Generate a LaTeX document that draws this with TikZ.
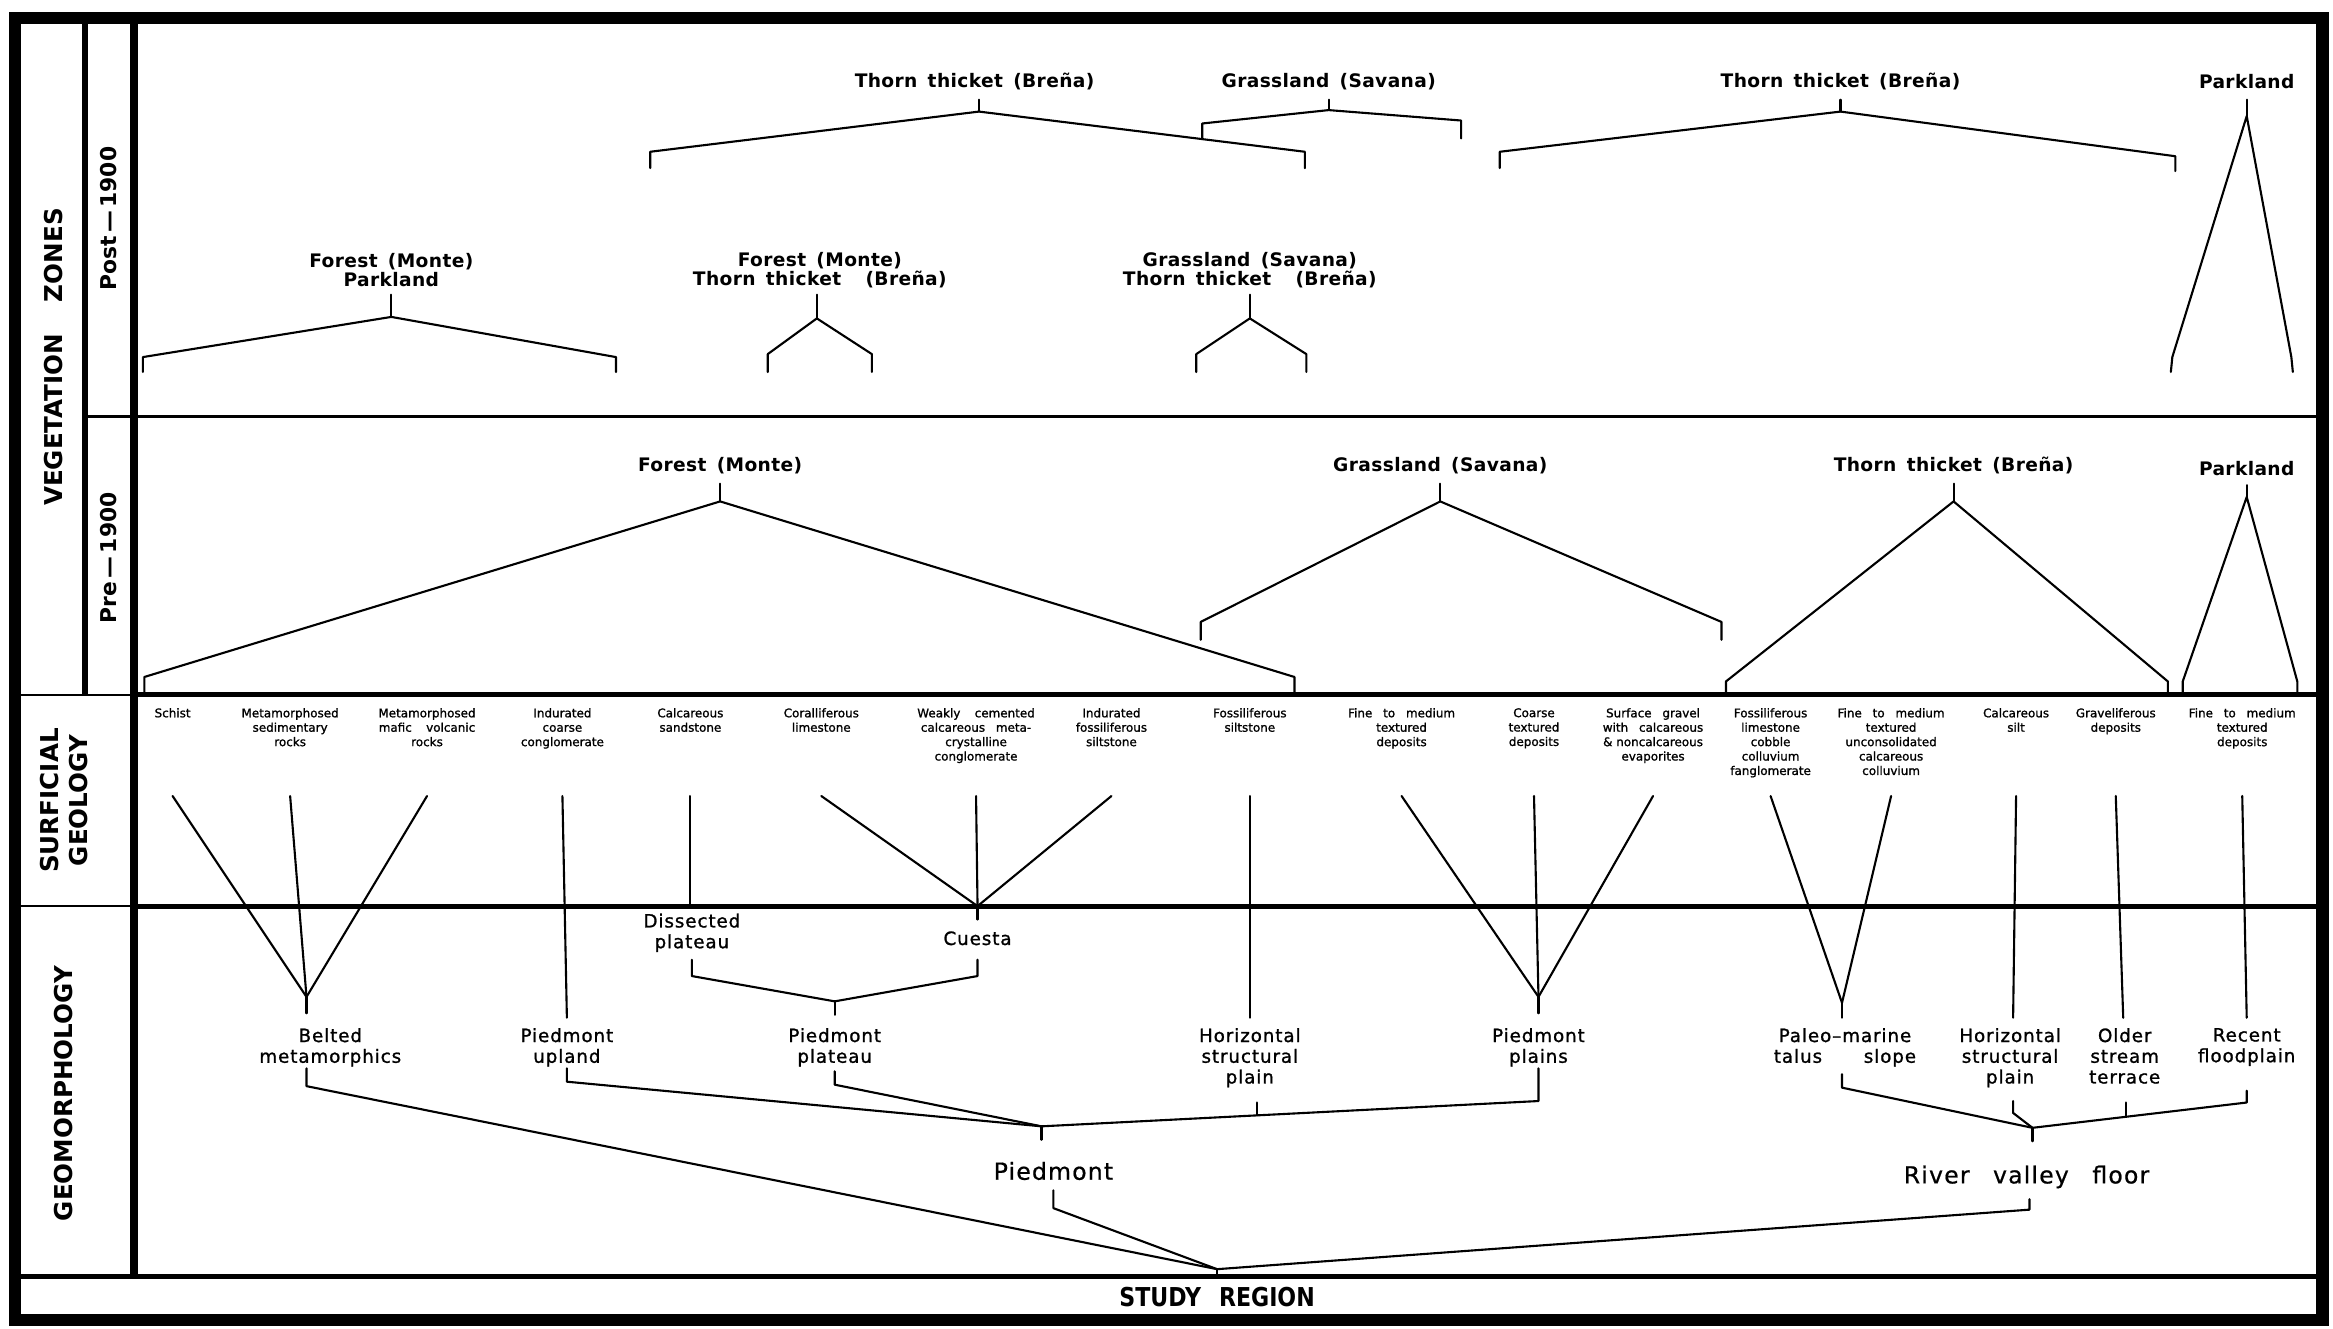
\documentclass[tikz,border=0pt]{standalone}
\usepackage{fontspec}
\setmainfont{DejaVu Sans}
\newfontfamily\vegfont[LetterSpace=2,WordSpace=1.5]{DejaVu Sans}
\newfontfamily\geomfont[LetterSpace=5,WordSpace=1.5,FakeBold=1.2]{DejaVu Sans}
\newfontfamily\bigfont[LetterSpace=5,WordSpace=1.5,FakeBold=0.6]{DejaVu Sans}
\newfontfamily\geolfont[FakeBold=1.2]{DejaVu Sans}
\tikzset{
 lbl/.style={inner sep=0pt, outer sep=0pt, align=center},
 veg/.style={lbl, font=\vegfont\bfseries\fontsize{5.3}{5.6}\selectfont},
 geol/.style={lbl, anchor=north, font=\geolfont\fontsize{3.4}{4.1}\selectfont},
 geom/.style={lbl, anchor=north, font=\geomfont\fontsize{5.2}{5.9}\selectfont},
 bigl/.style={lbl, font=\bigfont\fontsize{6.7}{8}\selectfont},
 side/.style={lbl, rotate=90, font=\bfseries\fontsize{7}{8.5}\selectfont},
 conn/.style={line width=0.6pt, line cap=round, line join=round},
 framel/.style={line width=3.5pt},
 heavy/.style={line width=2.2pt},
 rulel/.style={line width=1.4pt},
 thinl/.style={line width=0.6pt},
}
\begin{document}
\begin{tikzpicture}[x=0.1488mm,y=-0.1488mm]
\useasboundingbox (0,0) rectangle (1568,893);
% ---------- frame ----------
\draw[framel] (10,12) rectangle (1561,887);
\draw[line width=1.6pt] (57,12) -- (57,467);
\draw[heavy] (90,12) -- (90,858);
\draw[line width=1pt] (57,280) -- (1561,280);
\draw[thinl] (10,467) -- (90,467);
\draw[thinl] (10,609) -- (90,609);
\draw[rulel] (90,467) -- (1561,467);
\draw[rulel] (90,609) -- (1561,609);
\draw[rulel] (10,858) -- (1561,858);
% ---------- side labels ----------
\node[side] (vz) at (36,240) {VEGETATION\hspace{9pt}ZONES};
\node[side, font=\bfseries\fontsize{6.2}{7}\selectfont] (post) at (73,147) {Post\,—\,1900};
\node[side, font=\bfseries\fontsize{6.2}{7}\selectfont] (pre) at (73,375) {Pre\,—\,1900};
\node[side] (sg) at (43,538) {SURFICIAL\\GEOLOGY};
\node[side] (gm) at (43,735) {GEOMORPHOLOGY};
\node[lbl, font=\bfseries\fontsize{7.4}{8}\selectfont] (sr) at (818,872) {\scalebox{0.85}[1]{STUDY\hspace{6pt}REGION}};
% ---------- Post-1900 row 1 ----------
\node[veg] (t1) at (655,55) {Thorn thicket (Breña)};
\node[veg] (g1) at (893,55) {Grassland (Savana)};
\node[veg] (t2) at (1237,55) {Thorn thicket (Breña)};
\node[veg] (p1) at (1510,55) {Parkland};
\coordinate (t1s) at (658,67); \coordinate (t1a) at (658,75);
\coordinate (t1l) at (437,102); \coordinate (t1lb) at (437,113);
\coordinate (t1r) at (877,102); \coordinate (t1rb) at (877,113);
\draw[conn] (t1s) -- (t1a);
\draw[conn] (t1lb) -- (t1l) -- (t1a) -- (t1r) -- (t1rb);
\coordinate (g1s) at (893,67); \coordinate (g1a) at (893,74);
\coordinate (g1l) at (808,83); \coordinate (g1lb) at (808,93.5);
\coordinate (g1r) at (982,81); \coordinate (g1rb) at (982,93);
\draw[conn] (g1s) -- (g1a);
\draw[conn] (g1lb) -- (g1l) -- (g1a) -- (g1r) -- (g1rb);
\coordinate (t2s) at (1237,67); \coordinate (t2a) at (1237,75);
\coordinate (t2l) at (1008,102); \coordinate (t2lb) at (1008,113);
\coordinate (t2r) at (1462,105); \coordinate (t2rb) at (1462,115);
\draw[conn] (t2s) -- (t2a);
\draw[conn] (t2lb) -- (t2l) -- (t2a) -- (t2r) -- (t2rb);
\coordinate (p1s) at (1510,67); \coordinate (p1a) at (1510,78);
\coordinate (p1l) at (1460,240); \coordinate (p1lb) at (1459,250);
\coordinate (p1r) at (1540,240); \coordinate (p1rb) at (1541,250);
\draw[conn] (p1s) -- (p1a);
\draw[conn] (p1lb) -- (p1l) -- (p1a) -- (p1r) -- (p1rb);
% ---------- Post-1900 row 2 ----------
\node[veg] (fp) at (263,181.5) {Forest (Monte)\\Parkland};
\node[veg] (ft) at (551,181.5) {Forest (Monte)\\Thorn thicket\hspace{4pt} (Breña)};
\node[veg] (gt) at (840,181.5) {Grassland (Savana)\\Thorn thicket\hspace{4pt} (Breña)};
\coordinate (fps) at (263,198); \coordinate (fpa) at (263,213);
\coordinate (fpl) at (96,240); \coordinate (fplb) at (96,250);
\coordinate (fpr) at (414,240); \coordinate (fprb) at (414,250);
\draw[conn] (fps) -- (fpa);
\draw[conn] (fplb) -- (fpl) -- (fpa) -- (fpr) -- (fprb);
\coordinate (fts) at (549,198); \coordinate (fta) at (549,214);
\coordinate (ftl) at (516,238); \coordinate (ftlb) at (516,250);
\coordinate (ftr) at (586,238); \coordinate (ftrb) at (586,250);
\draw[conn] (fts) -- (fta);
\draw[conn] (ftlb) -- (ftl) -- (fta) -- (ftr) -- (ftrb);
\coordinate (gts) at (840,198); \coordinate (gta) at (840,214);
\coordinate (gtl) at (804,238); \coordinate (gtlb) at (804,250);
\coordinate (gtr) at (878,238); \coordinate (gtrb) at (878,250);
\draw[conn] (gts) -- (gta);
\draw[conn] (gtlb) -- (gtl) -- (gta) -- (gtr) -- (gtrb);
% ---------- Pre-1900 ----------
\node[veg] (f2) at (484,313) {Forest (Monte)};
\node[veg] (g2) at (968,313) {Grassland (Savana)};
\node[veg] (t3) at (1313,313) {Thorn thicket (Breña)};
\node[veg] (p2) at (1510,315) {Parkland};
\coordinate (f2s) at (484,325); \coordinate (f2a) at (484,337);
\coordinate (f2l) at (97,455); \coordinate (f2lb) at (97,466);
\coordinate (f2r) at (870,455); \coordinate (f2rb) at (870,466);
\draw[conn] (f2s) -- (f2a);
\draw[conn] (f2lb) -- (f2l) -- (f2a) -- (f2r) -- (f2rb);
\coordinate (g2s) at (968,325); \coordinate (g2a) at (968,337);
\coordinate (g2l) at (807,418); \coordinate (g2lb) at (807,430);
\coordinate (g2r) at (1157,418); \coordinate (g2rb) at (1157,430);
\draw[conn] (g2s) -- (g2a);
\draw[conn] (g2lb) -- (g2l) -- (g2a) -- (g2r) -- (g2rb);
\coordinate (t3s) at (1313,325); \coordinate (t3a) at (1313,337);
\coordinate (t3l) at (1160,458); \coordinate (t3lb) at (1160,466);
\coordinate (t3r) at (1457,458); \coordinate (t3rb) at (1457,466);
\draw[conn] (t3s) -- (t3a);
\draw[conn] (t3lb) -- (t3l) -- (t3a) -- (t3r) -- (t3rb);
\coordinate (p2s) at (1510,326); \coordinate (p2a) at (1510,334);
\coordinate (p2l) at (1467,458); \coordinate (p2lb) at (1467,466);
\coordinate (p2r) at (1544,458); \coordinate (p2rb) at (1544,466);
\draw[conn] (p2s) -- (p2a);
\draw[conn] (p2lb) -- (p2l) -- (p2a) -- (p2r) -- (p2rb);
% ---------- Surficial geology ----------
\node[geol] (s1) at (116,476) {Schist};
\node[geol] (s2) at (195,476) {Metamorphosed\\sedimentary\\rocks};
\node[geol] (s3) at (287,476) {Metamorphosed\\mafic\hspace{3pt} volcanic\\rocks};
\node[geol] (s4) at (378,476) {Indurated\\coarse\\conglomerate};
\node[geol] (s5) at (464,476) {Calcareous\\sandstone};
\node[geol] (s6) at (552,476) {Coralliferous\\limestone};
\node[geol] (s7) at (656,476) {Weakly\hspace{3pt} cemented\\calcareous\hspace{2pt} meta-\\crystalline\\conglomerate};
\node[geol] (s8) at (747,476) {Indurated\\fossiliferous\\siltstone};
\node[geol] (s9) at (840,476) {Fossiliferous\\siltstone};
\node[geol] (s10) at (942,476) {Fine\hspace{2pt} to\hspace{2pt} medium\\textured\\deposits};
\node[geol] (s11) at (1031,476) {Coarse\\textured\\deposits};
\node[geol] (s12) at (1111,476) {Surface\hspace{2pt} gravel\\with\hspace{2pt} calcareous\\\& noncalcareous\\evaporites};
\node[geol] (s13) at (1190,476) {Fossiliferous\\limestone\\cobble\\colluvium\\fanglomerate};
\node[geol] (s14) at (1271,476) {Fine\hspace{2pt} to\hspace{2pt} medium\\textured\\unconsolidated\\calcareous\\colluvium};
\node[geol] (s15) at (1355,476) {Calcareous\\silt};
\node[geol] (s16) at (1422,476) {Graveliferous\\deposits};
\node[geol] (s17) at (1507,476) {Fine\hspace{2pt} to\hspace{2pt} medium\\textured\\deposits};
\coordinate (gtop) at (0,535);
% ---------- Geomorphology labels ----------
\node[geom] (bm) at (222,691) {Belted\\metamorphics};
\node[geom] (pu) at (381,691) {Piedmont\\upland};
\node[geom] (dp) at (465,614) {Dissected\\plateau};
\node[geom] (cu) at (657,626) {Cuesta};
\node[geom] (pp) at (561,691) {Piedmont\\plateau};
\node[geom] (hs) at (840,691) {Horizontal\\structural\\plain};
\node[geom] (pl) at (1034,691) {Piedmont\\plains};
\node[geom] (pm) at (1240,691) {Paleo–marine\\talus\hspace{9pt} slope};
\node[geom] (hs2) at (1351,691) {Horizontal\\structural\\plain};
\node[geom] (os) at (1428,691) {Older\\stream\\terrace};
\node[geom] (rf) at (1510,691) {Recent\\floodplain};
\node[bigl] (pie) at (708,787) {Piedmont};
\node[bigl] (rv) at (1362,791) {River\hspace{3pt} valley\hspace{3pt} floor};
% geology -> geomorphology connectors
\coordinate (bmA) at (206,670); \coordinate (bmS) at (206,681);
\draw[conn] (s1 |- gtop) -- (bmA);
\draw[conn] (s2 |- gtop) -- (bmA);
\draw[conn] (s3 |- gtop) -- (bmA);
\draw[conn] (bmA) -- (bmS);
\coordinate (puS) at (381,684);
\draw[conn] (s4 |- gtop) -- (puS);
\coordinate (dpS) at (464,609);
\draw[conn] (s5 |- gtop) -- (dpS);
\coordinate (cuA) at (657,609); \coordinate (cuS) at (657,618);
\draw[conn] (s6 |- gtop) -- (cuA);
\draw[conn] (s7 |- gtop) -- (cuA);
\draw[conn] (s8 |- gtop) -- (cuA);
\draw[conn] (cuA) -- (cuS);
\coordinate (hsS) at (840,684);
\draw[conn] (s9 |- gtop) -- (hsS);
\coordinate (plA) at (1034,670); \coordinate (plS) at (1034,681);
\draw[conn] (s10 |- gtop) -- (plA);
\draw[conn] (s11 |- gtop) -- (plA);
\draw[conn] (s12 |- gtop) -- (plA);
\draw[conn] (plA) -- (plS);
\coordinate (pmA) at (1238,674); \coordinate (pmS) at (1238,684);
\draw[conn] (s13 |- gtop) -- (pmA);
\draw[conn] (s14 |- gtop) -- (pmA);
\draw[conn] (pmA) -- (pmS);
\coordinate (hs2S) at (1353,684);
\draw[conn] (s15 |- gtop) -- (hs2S);
\coordinate (osS) at (1427,684);
\draw[conn] (s16 |- gtop) -- (osS);
\coordinate (rfS) at (1510,684);
\draw[conn] (s17 |- gtop) -- (rfS);
% Dissected plateau + Cuesta -> Piedmont plateau
\coordinate (dpB) at (465,645); \coordinate (dpC) at (465,656);
\coordinate (cuB) at (657,645); \coordinate (cuC) at (657,656);
\coordinate (ppA) at (561,673); \coordinate (ppS) at (561,682);
\draw[conn] (dpB) -- (dpC) -- (ppA) -- (cuC) -- (cuB);
\draw[conn] (ppA) -- (ppS);
% ---------- Piedmont group ----------
\coordinate (pA) at (700,757); \coordinate (pS) at (700,766);
\coordinate (puD) at (381,718); \coordinate (puE) at (381,727);
\coordinate (ppD) at (561,720); \coordinate (ppE) at (561,729);
\coordinate (plD) at (1034,718); \coordinate (plE) at (1034,740);
\coordinate (hsD) at (845,741); \coordinate (hsE) at (845,749.6);
\draw[conn] (puD) -- (puE) -- (pA);
\draw[conn] (ppD) -- (ppE) -- (pA);
\draw[conn] (plD) -- (plE) -- (pA);
\draw[conn] (hsD) -- (hsE);
\draw[conn] (pA) -- (pS);
% ---------- River valley floor group ----------
\coordinate (rA) at (1366,758); \coordinate (rS) at (1366,767);
\coordinate (pmD) at (1238,722); \coordinate (pmE) at (1238,731);
\coordinate (hs2D) at (1353,740); \coordinate (hs2E) at (1353,748);
\coordinate (osD) at (1429,741); \coordinate (osE) at (1429,750.6);
\coordinate (rfD) at (1510,733); \coordinate (rfE) at (1510,741);
\draw[conn] (pmD) -- (pmE) -- (rA);
\draw[conn] (hs2D) -- (hs2E) -- (rA);
\draw[conn] (rfD) -- (rfE) -- (rA);
\draw[conn] (osD) -- (osE);
\draw[conn] (rA) -- (rS);
% ---------- Study region ----------
\coordinate (srA) at (818,853); \coordinate (srB) at (818,858);
\coordinate (bmD) at (206,718); \coordinate (bmE) at (206,730);
\coordinate (piD) at (708,800); \coordinate (piE) at (708,812);
\coordinate (rvD) at (1364,806); \coordinate (rvE) at (1364,813);
\draw[conn] (bmD) -- (bmE) -- (srA);
\draw[conn] (piD) -- (piE) -- (srA);
\draw[conn] (rvD) -- (rvE) -- (srA);
\draw[conn] (srA) -- (srB);
\end{tikzpicture}
\end{document}
